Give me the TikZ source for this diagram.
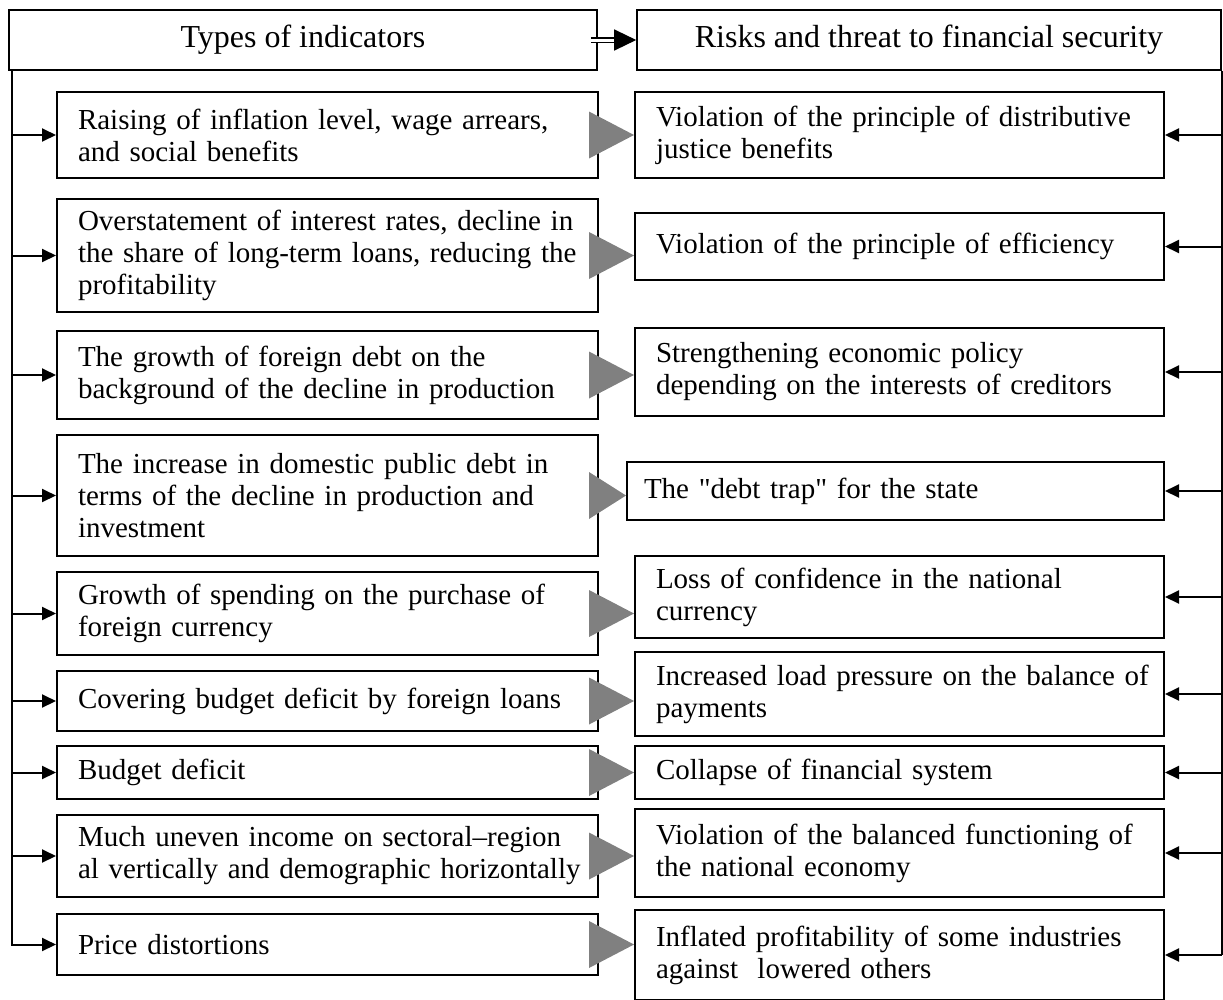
\documentclass[tikz,border=0pt]{standalone}
\usepackage{fontspec}
\setmainfont{Liberation Serif}[Ligatures=TeXOff]
\usetikzlibrary{arrows.meta, positioning}

\begin{document}
\begin{tikzpicture}[x=1pt, y=-1pt,
  head/.style={draw, line width=1.6pt, minimum height=60pt, inner sep=0pt, font=\fontsize{32}{36}\selectfont},
  lbox/.style={draw, line width=2pt, minimum width=541pt, text width=529pt, inner xsep=6pt, inner ysep=0pt, align=left,
    font=\fontsize{29}{32}\selectfont, execute at begin node={\leftskip=15pt}},
  rbox/.style={lbox, minimum width=529pt, text width=517pt},
  arr/.style={-{Triangle[length=14pt, width=13pt]}, line width=2pt},
  dbl/.style={double, double distance=3pt, line width=1.3pt, -{Triangle[length=22pt, width=21pt]}},
  tri/.style={fill=gray},
]
\useasboundingbox (0,0) rectangle (1223,999);

% headers
\node[head, minimum width=588pt] (types) at (303,40) {Types of indicators};
\node[head, minimum width=584pt] (risks) at (929,40) {Risks and threat to financial security};
\draw[dbl] ([xshift=-7pt]types.east) -- (risks.west);

% indicators
\node[lbox, minimum height=86pt] (ind1) at (327.5,135) {Raising of inflation level, wage arrears,\\and social benefits};
\node[lbox, minimum height=113pt] (ind2) at (327.5,255.5) {Overstatement of interest rates, decline in\\the share of long-term loans, reducing the\\profitability};
\node[lbox, minimum height=88pt] (ind3) at (327.5,375) {The growth of foreign debt on the\\background of the decline in production};
\node[lbox, minimum height=121pt] (ind4) at (327.5,495.5) {The increase in domestic public debt in\\terms of the decline in production and\\investment};
\node[lbox, minimum height=83pt] (ind5) at (327.5,613.5) {Growth of spending on the purchase of\\foreign currency};
\node[lbox, minimum height=60pt] (ind6) at (327.5,701) {Covering budget deficit by foreign loans};
\node[lbox, minimum height=53pt] (ind7) at (327.5,772.5) {Budget deficit};
\node[lbox, minimum height=82pt] (ind8) at (327.5,856) {Much uneven income on sectoral–region\\al vertically and demographic horizontally};
\node[lbox, minimum height=61pt] (ind9) at (327.5,944.5) {Price distortions};

% risks
\node[rbox, minimum height=86pt] (risk1) at (899.5,135) {Violation of the principle of distributive\\justice benefits};
\node[rbox, minimum height=67pt] (risk2) at (899.5,246.5) {Violation of the principle of efficiency};
\node[rbox, minimum height=88pt] (risk3) at (899.5,372) {Strengthening economic policy\\depending on the interests of creditors};
\node[rbox, minimum width=537pt, text width=525pt, minimum height=58pt, execute at begin node={\leftskip=11pt}] (risk4) at (895.5,491) {The "debt trap" for the state};
\node[rbox, minimum height=82pt] (risk5) at (899.5,597) {Loss of confidence in the national\\currency};
\node[rbox, minimum height=84pt] (risk6) at (899.5,694) {Increased load pressure on the balance of\\payments};
\node[rbox, minimum height=53pt] (risk7) at (899.5,772.5) {Collapse of financial system};
\node[rbox, minimum height=88pt] (risk8) at (899.5,853) {Violation of the balanced functioning of\\the national economy};
\node[rbox, minimum height=90pt] (risk9) at (899.5,955) {Inflated profitability of some industries\\against~ lowered others};

% buses
\coordinate (ltop) at ([xshift=4pt]types.south west);
\coordinate (rtop) at (risks.south east);
\draw[arr] (ltop) |- (ind9.west);
\foreach \i in {1,...,8}
  \draw[arr] (ind\i.west -| ltop) -- (ind\i.west);
\draw[line width=2pt] (rtop) -- (rtop |- risk9.east);
\foreach \i in {1,...,9}
  \draw[arr] (risk\i.east -| rtop) -- (risk\i.east);

% grey pointers
\foreach \i in {1,...,9}
  \fill[tri] ([xshift=-10pt, yshift=23.5pt]ind\i.east) -- (risk\i.west |- ind\i.east) -- ([xshift=-10pt, yshift=-23.5pt]ind\i.east) -- cycle;

\end{tikzpicture}
\end{document}
